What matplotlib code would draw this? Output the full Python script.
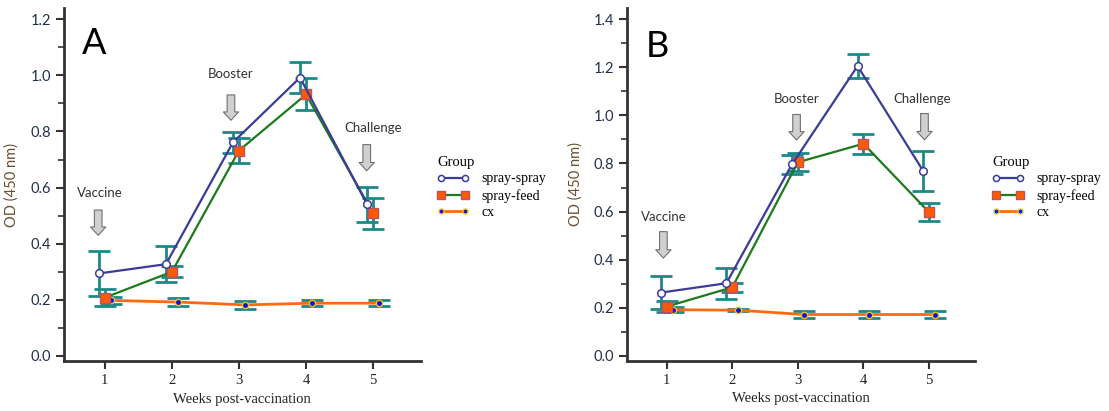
import numpy as np
from matplotlib import pyplot as plt
from matplotlib.ticker import MultipleLocator

weeks = np.array([1, 2, 3, 4, 5])
groups = ['spray-spray', 'spray-feed', 'cx']

# panel A
a_ss = [0.294, 0.327, 0.761, 0.992, 0.541]
a_ss_err = [0.08, 0.065, 0.038, 0.056, 0.062]
a_sf = [0.208, 0.300, 0.732, 0.932, 0.508]
a_sf_err = [0.03, 0.02, 0.045, 0.057, 0.054]
a_cx = [0.198, 0.192, 0.182, 0.188, 0.188]
a_cx_err = [0.012, 0.013, 0.015, 0.01, 0.01]

# panel B
b_ss = [0.263, 0.302, 0.796, 1.205, 0.769]
b_ss_err = [0.07, 0.064, 0.04, 0.051, 0.083]
b_sf = [0.205, 0.285, 0.805, 0.882, 0.597]
b_sf_err = [0.022, 0.018, 0.038, 0.042, 0.037]
b_cx = [0.192, 0.19, 0.172, 0.172, 0.172]
b_cx_err = [0.01, 0.005, 0.015, 0.014, 0.014]

TEAL = '#1b8a87'
NAVY = '#3b3b9a'
GREEN = '#1c7a1c'
ORANGE = '#ff6a10'
SERIF = 'Liberation Serif'
SANS = 'Lato'

fig = plt.figure(figsize=(11.09, 4.11), dpi=100)


def draw_panel(ax, ss, ss_err, sf, sf_err, cx, cx_err, ylim, xlim, notes, letter_pos, letter):
    off = 0.09
    x_ss, x_sf, x_cx = weeks - off, weeks, weeks + off
    eb = dict(fmt='none', ecolor=TEAL, elinewidth=2, capsize=8, capthick=2, zorder=2)
    ax.errorbar(x_ss, ss, yerr=ss_err, **eb)
    ax.errorbar(x_sf, sf, yerr=sf_err, **eb)
    ax.errorbar(x_cx, cx, yerr=cx_err, **eb)
    ax.plot(x_cx, cx, color=ORANGE, lw=2, marker='o', ms=4.5, mfc='#1010e0',
            mec='#f0c020', mew=1, label=groups[2], zorder=3)
    ax.plot(x_sf, sf, color=GREEN, lw=1.6, marker='s', ms=6.5, mfc='#ff5a00',
            mec='#c05060', mew=1, label=groups[1], zorder=4)
    ax.plot(x_ss, ss, color=NAVY, lw=1.6, marker='o', ms=5.5, mfc='white',
            mec=NAVY, mew=1.1, label=groups[0], zorder=5)

    ax.set_xlim(*xlim)
    ax.set_ylim(*ylim)
    ax.set_xticks(weeks)
    ax.yaxis.set_major_locator(MultipleLocator(0.2))
    ax.yaxis.set_minor_locator(MultipleLocator(0.1))
    ax.yaxis.set_major_formatter(plt.FuncFormatter(lambda v, p: '%.1f' % v))
    for s in ['top', 'right']:
        ax.spines[s].set_visible(False)
    for s in ['left', 'bottom']:
        ax.spines[s].set_linewidth(2)
        ax.spines[s].set_color('#333333')
    ax.tick_params(axis='both', which='major', direction='out', length=6, width=1.5, color='#333333')
    ax.tick_params(axis='y', which='minor', direction='out', length=4, width=1.2, color='#333333')
    ax.tick_params(axis='x', which='minor', bottom=False)
    for t in ax.get_yticklabels():
        t.set_fontfamily(SANS)
        t.set_fontsize(10.5)
        t.set_color('#22304f')
    for t in ax.get_xticklabels():
        t.set_fontfamily(SERIF)
        t.set_fontsize(10.5)
        t.set_color('#222222')
    ax.set_xlabel('Weeks post-vaccination', fontfamily=SERIF, fontsize=10.5, color='#222222')
    ax.set_ylabel('OD (450 nm)', fontfamily=SANS, fontsize=10.5, color='#6b4e2e', labelpad=8)

    for name, tx, ty, ax_x, y0, y1 in notes:
        ax.text(tx, ty, name, fontfamily=SANS, fontsize=9.5, color='#333333',
                ha='center', va='center')
        ax.annotate('', xy=(ax_x, y1), xytext=(ax_x, y0),
                    arrowprops=dict(arrowstyle='simple,head_width=1.1,head_length=0.6,tail_width=0.55',
                                    fc='#d0d0d0', ec='#707070', lw=0.8))

    fig.text(letter_pos[0], letter_pos[1], letter, fontfamily=SANS, fontsize=26, color='black',
             ha='left', va='baseline')

    handles, labels = ax.get_legend_handles_labels()
    order = [2, 1, 0]
    return [handles[i] for i in order], [labels[i] for i in order]


axA = fig.add_axes([64 / 1109, 1 - 361 / 411, 356.7 / 1109, 353 / 411])
axB = fig.add_axes([627.3 / 1109, 1 - 360.7 / 411, 347.7 / 1109, 352.4 / 411])

notesA = [('Vaccine', 0.93, 0.58, 0.9, 0.53, 0.42),
          ('Booster', 2.88, 1.004, 2.88, 0.94, 0.83),
          ('Challenge', 5.0, 0.813, 4.905, 0.763, 0.65)]
notesB = [('Vaccine', 0.95, 0.576, 0.95, 0.528, 0.395),
          ('Booster', 2.98, 1.066, 2.98, 1.015, 0.886),
          ('Challenge', 4.90, 1.066, 4.93, 1.019, 0.887)]

hA, lA = draw_panel(axA, a_ss, a_ss_err, a_sf, a_sf_err, a_cx, a_cx_err,
                    (-0.018, 1.24), (0.39, 5.71), notesA, (82 / 1109, 1 - 54 / 411), 'A')
hB, lB = draw_panel(axB, b_ss, b_ss_err, b_sf, b_sf_err, b_cx, b_cx_err,
                    (-0.02, 1.445), (0.4, 5.70), notesB, (646 / 1109, 1 - 57 / 411), 'B')

for ax, h, l, x0 in [(axA, hA, lA, 430), (axB, hB, lB, 985)]:
    leg = ax.legend(h, l, title='Group', loc='upper left', bbox_to_anchor=(x0 / 1109, 1 - 149 / 411),
                    bbox_transform=fig.transFigure, frameon=False, borderpad=0, numpoints=2,
                    markerscale=0.8, handlelength=2.3, handletextpad=0.9, labelspacing=0.25,
                    alignment='left', prop={'family': SERIF, 'size': 10})
    leg.get_title().set_fontfamily(SERIF)
    leg.get_title().set_fontsize(10.5)

fig.savefig('out.png', dpi=100)
